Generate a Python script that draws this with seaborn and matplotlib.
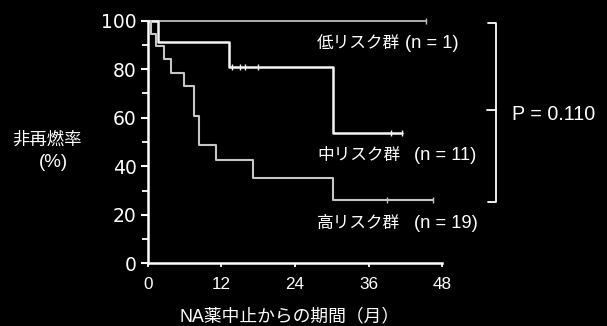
import matplotlib
matplotlib.use("Agg")
import matplotlib.pyplot as plt
import seaborn as sns
import pandas as pd

# Kaplan-Meier step curves (months since stopping NA therapy, % relapse-free)
low_t = [0, 45.4]
low_s = [100, 100]
mid_t = [0, 1.7, 13.3, 30.2, 41.4]
mid_s = [100, 91.1, 81.0, 53.6, 53.6]
high_t = [0, 0.55, 1.3, 2.65, 3.8, 5.9, 7.55, 8.3, 11.2, 17.2, 30.2, 46.4]
high_s = [100, 94.7, 89.6, 84.1, 78.6, 73.1, 60.8, 48.8, 42.6, 35.3, 26.1, 26.1]

# censored observations
low_cens_t = [45.4]
low_cens_s = [100]
mid_cens_t = [13.8, 15.1, 15.8, 17.9, 39.7, 41.4]
mid_cens_s = [81.0, 81.0, 81.0, 81.0, 53.6, 53.6]
high_cens_t = [38.9, 46.4]
high_cens_s = [26.1, 26.1]

group_names = ["低リスク群", "中リスク群", "高リスク群"]
group_n = [1, 11, 19]
x_ticks = [0, 12, 24, 36, 48]
y_ticks = [0, 20, 40, 60, 80, 100]
p_text = "P = 0.110"

sns.set_style("ticks")
plt.rcParams["font.family"] = ["Liberation Sans", "Noto Sans CJK JP"]

fig = plt.figure(figsize=(6.07, 3.26), dpi=100, facecolor="black")
ax = fig.add_axes([0.2433, 0.1923, 0.4856, 0.7442])
ax.set_facecolor("black")

curves = [
    (low_t, low_s, low_cens_t, low_cens_s, "#bdbdbd", 1.3),
    (mid_t, mid_s, mid_cens_t, mid_cens_s, "#f4f4f4", 1.8),
    (high_t, high_s, high_cens_t, high_cens_s, "#c6c6c6", 1.5),
]
for t, s, ct, cs, col, lw in curves:
    df = pd.DataFrame({"t": t, "s": s})
    sns.lineplot(data=df, x="t", y="s", ax=ax, color=col, lw=lw,
                 drawstyle="steps-post", estimator=None, sort=False,
                 clip_on=False)
    cdf = pd.DataFrame({"t": ct, "s": cs})
    sns.scatterplot(data=cdf, x="t", y="s", ax=ax, color=col, marker="|",
                    s=22, linewidth=1.0, clip_on=False, zorder=3)

ax.set_xlim(0, 48)
ax.set_ylim(0, 100)
ax.set_xticks(x_ticks)
ax.set_yticks(y_ticks)
ax.set_yticks([10, 30, 50, 70, 90], minor=True)

for side in ("top", "right"):
    ax.spines[side].set_visible(False)
for side in ("left", "bottom"):
    ax.spines[side].set_color("white")
    ax.spines[side].set_linewidth(1.8)

ax.tick_params(axis="y", which="major", direction="out", length=5, width=1.5,
               color="white", labelcolor="white", labelsize=13.5, pad=3)
ax.tick_params(axis="y", which="minor", direction="out", length=4, width=1.3,
               color="white")
ax.tick_params(axis="x", which="major", direction="out", length=3, width=1.3,
               color="white", labelcolor="white", labelsize=12.3, pad=6.5)
for lab in ax.get_yticklabels():
    lab.set_family(["DejaVu Sans"])

ax.set_ylabel("")
ax.set_xlabel("NA薬中止からの期間（月）", color="white", fontsize=12.8)
ax.xaxis.set_label_coords(0.48, -0.219)
ax.xaxis.label.set_va("center")

fig.text(47.5 / 607, 1 - 140 / 326, "非再燃率", color="white", fontsize=12.5,
         ha="center", va="center")
fig.text(53.5 / 607, 1 - 162.5 / 326, "(%)", color="white", fontsize=13.5,
         ha="center", va="center")

# group names and sizes beside the curves
for name, n, y, xn in zip(group_names, group_n, [90.8, 44.6, 16.6],
                          [41.9, 43.3, 43.3]):
    ax.text(27.6, y, name, color="white", fontsize=12, ha="left", va="center")
    ax.text(xn, y, f"(n = {n})", color="white", fontsize=13.2, ha="left",
            va="center")

# bracket spanning the three curves with the log-rank p value
bx, bl, ml = 56.8, 55.5, 55.2
ytop, ybot, ymid = 99.2, 25.4, 63.2
ax.plot([bl, bx, bx, bl], [ytop, ytop, ybot, ybot], color="white", lw=1.3,
        clip_on=False)
ax.plot([ml, bx], [ymid, ymid], color="white", lw=1.3, clip_on=False)
ax.text(59.3, 61.5, p_text, color="white", fontsize=14.2, ha="left", va="center")

fig.savefig("out.png", dpi=100, facecolor="black")
